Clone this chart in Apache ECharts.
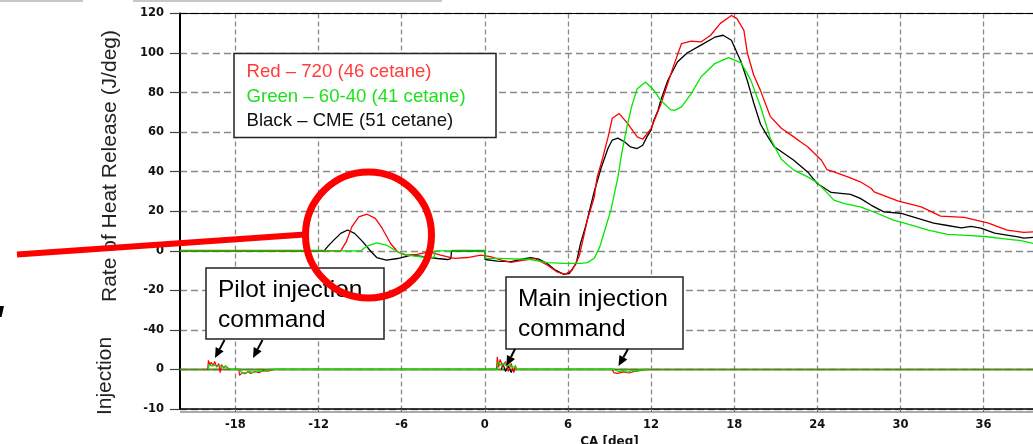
<!DOCTYPE html>
<html><head><meta charset="utf-8">
<script src="https://cdn.jsdelivr.net/npm/echarts@6/dist/echarts.min.js"></script>
<style>html,body{margin:0;padding:0;background:#fff}#c{width:1033px;height:444px}</style>
</head><body><div id="c"></div><script>
// ---- data (CA in deg, rate of heat release in J/deg) ----
const caTicks = [-18, -12, -6, 0, 6, 12, 18, 24, 30, 36];
const yTickLabels = {'-80': '-10', '-60': '0'}; // injection panel labels on the shared axis

const blackCA = [-22,-11.6,-11.3,-10.9,-10.4,-9.9,-9.4,-8.8,-8.2,-7.8,-7.1,-6.3,-5.3,-4.4,-3.4,-2.7,-2.45,-2.4,0,0.02,0.9,1.9,2.6,3.3,3.9,4.5,5.1,5.7,6.1,6.6,6.9,7.3,7.9,8.4,8.9,9.2,9.6,10.1,10.5,11.0,11.4,11.7,12.0,12.2,12.5,12.7,13.2,13.9,14.6,15.6,16.6,17.2,17.8,18.5,18.95,19.4,19.9,20.4,20.9,21.6,22.3,23.3,24.0,25.0,25.7,26.4,27.1,27.9,28.8,30.0,31.2,32.4,33.4,34.4,35.1,35.8,36.8,37.8,38.5,38.9,39.6];
const blackRoHR = [0,0,2.5,5.4,8.8,10.5,8.8,4.5,-0.5,-3.4,-4.7,-3.9,-2.2,-3.0,-3.9,-4.4,-3.9,0,0,-4.4,-5.2,-5.5,-4.4,-3.5,-4.2,-6.4,-9.8,-11.9,-11.4,-6.4,3.5,13,30,42,52,56,57,55,52.6,51.7,53.4,57.6,61,66,71,76,86,95.5,100,104,108,109,106.5,95.5,86,75,64,58,52.6,49.2,45.8,39.9,34,29.5,29,28.5,26.5,23,19.7,19,16.5,14,12.8,11.6,12.4,11.5,8.9,7.8,7,6.4,6.8];

const redCA = [-22,-10.4,-10.0,-9.6,-9.1,-8.5,-7.9,-7.4,-6.8,-6.3,-5.7,-4.9,-4.0,-3.2,-2.2,-1.25,-0.3,0.4,1.2,1.9,2.6,3.6,4.5,5.2,5.8,6.3,6.8,7.1,7.4,7.9,8.1,8.5,8.9,9.2,9.7,10.3,11.0,11.4,12.0,12.7,13.6,14.2,14.9,15.6,16.3,17.0,17.8,18.2,18.7,18.95,19.4,19.9,20.6,21.4,22.3,22.8,23.3,24.3,24.7,25.2,26.2,27.1,27.9,28.1,29.8,31.5,32.9,34.6,36.3,37.7,38.9,39.6];
const redRoHR = [0,0,4.5,12.1,17.2,18.5,16.4,11.3,3.7,-0.5,-2.2,-1.8,-0.5,-2.2,-3.8,-3.4,-2.2,-3,-4.7,-5.9,-5,-3.9,-7.2,-10.6,-11.9,-9.8,-3,6,15.5,27,37,46.7,57.6,67,69.4,64.4,57.6,56.4,61.8,74,93,104.8,106,105.6,109,115,119,117.4,111.5,100,89,81,68,62,57.6,55,52.6,45.8,41,39.9,37.4,34.9,31.5,29.8,25.3,22.2,17.5,16.9,14.1,10.5,9.3,9.6];

const greenCA = [-22,-8.95,-8.5,-7.8,-7.1,-6.3,-5.6,-4.6,-3.66,-3.6,0,0.02,1.0,3.3,4.5,5.7,6.9,7.4,7.9,8.3,8.6,9.1,9.6,9.9,10.3,10.6,11.0,11.6,12.2,12.7,13.4,13.7,14.2,14.9,15.6,16.6,17.6,18.5,19.2,19.9,20.6,21.4,22.3,23.3,24.0,25.2,25.9,27.1,28.3,29.5,30.8,32.0,33.4,34.8,36.3,37.5,38.7,39.6];
const greenRoHR = [0,0,2.4,4,2.9,-0.5,-2.2,-3,-3.4,0,0,-3.8,-3.8,-4.4,-6,-6.4,-6.4,-6,-3.8,2,9,20.6,37,50,64,73,82,85.4,81.2,76.1,71.4,71,72.8,79.5,87.9,94.7,97.7,95,86.3,73,57,46.3,40.8,37.4,34.5,25.6,24,22.2,19,15.5,13,10.5,8.3,7.8,7.1,6,5.1,3.7];

// CA ranges where all three RoHR traces sit on zero together
const sharedZeroCA = [[-22, -11.6], [-2.4, 0]];

// injection command signals (injection units)
const injRedCA = [-20.0,-19.95,-19.85,-19.75,-19.6,-19.5,-19.35,-19.2,-19.1,-19.0,-18.85,-18.7,-18.5,-18.35,-17.75,-17.7,-17.5,-17.3,-17.1,-16.9,-16.6,-16.3,-16.0,-15.6,-15.2,0.85,0.9,1.0,1.1,1.3,1.5,1.7,1.9,2.1,2.2,2.3,9.2,9.3,9.6,10.0,10.4,10.8,11.2,11.7];
const injRed = [0,2.3,1.2,1.8,0.9,2.0,0.6,1.5,-0.8,1.2,0.4,0.8,0.2,0,0,-1.5,-0.8,-1.1,-0.6,-1.0,-0.5,-0.8,-0.3,-0.4,0,0,3.2,0.5,2.5,0.8,2.0,-0.5,1.5,-0.8,1.0,0,0,-0.8,-1.0,-0.6,-0.9,-0.5,-0.3,0];
const injGreenCA = [-19.95,-19.9,-19.7,-19.5,-19.3,-19.1,-18.9,-18.7,-18.5,-18.3,-17.7,-17.6,-17.3,-17.0,-16.7,-16.4,-16.0,-15.6,-15.2,0.9,0.95,1.2,1.4,1.6,1.8,2.0,2.2,2.3,9.3,9.4,9.7,10.0,10.3,10.6,10.9,11.3,11.7];
const injGreen = [0,1.2,0.9,1.1,0.8,1.0,0.6,0.9,0.3,0,0,-0.6,-0.9,-0.5,-0.8,-0.4,-0.5,-0.2,0,0,2.0,1.0,1.5,0.8,1.2,0.5,0.8,0,0,-0.3,-0.6,-0.2,-0.7,-0.2,-0.5,-0.1,0];
const injBlackCA = [1.2,1.3,1.5,1.7,1.9,2.0];
const injBlack = [0,1.5,-0.5,1.0,-0.8,0];

// ---- build ----
const zip = (xs, ys) => xs.map((x, i) => [x, ys[i]]);
const RED = '#ff0000', GREEN = '#00e600', BLACK = '#000000', OLIVE = '#55891e';
const chart = echarts.init(document.getElementById('c'), null, {renderer: 'canvas'});

function curve(name, xs, ys, color, yIdx, z, w) {
  return {name, type: 'line', data: zip(xs, ys), yAxisIndex: yIdx, showSymbol: false, symbol: 'none',
    lineStyle: {color, width: w || 1.3}, itemStyle: {color}, z, animation: false, silent: true};
}

function arrow(x1, y1, x2, y2) {
  const a = Math.atan2(y2 - y1, x2 - x1), L = 10, W = 4.5;
  const bx = x2 - L * Math.cos(a), by = y2 - L * Math.sin(a);
  const nx = -Math.sin(a) * W, ny = Math.cos(a) * W;
  return [
    {type: 'line', shape: {x1, y1, x2: bx, y2: by}, style: {stroke: '#000', lineWidth: 2}, z: 110},
    {type: 'polygon', shape: {points: [[x2, y2], [bx + nx, by + ny], [bx - nx, by - ny]]}, style: {fill: '#000'}, z: 110}
  ];
}

const boxFont = '"Liberation Sans", Arial, sans-serif';
const series = [];
sharedZeroCA.forEach((seg, i) => series.push(curve('zero' + i, seg, [0, 0], OLIVE, 0, 4, 2)));
series.push(curve('CME', blackCA, blackRoHR, BLACK, 0, 5));
series.push(curve('720', redCA, redRoHR, RED, 0, 6));
series.push(curve('60-40', greenCA, greenRoHR, GREEN, 0, 7));
series.push(curve('injBase', [-22, 40], [0, 0], OLIVE, 1, 4, 2));
series.push(curve('injBlack', injBlackCA, injBlack, BLACK, 1, 5, 1.2));
series.push(curve('injRed', injRedCA, injRed, RED, 1, 6, 1.2));
series.push(curve('injGreen', injGreenCA, injGreen, GREEN, 1, 7, 1.2));

const graphics = [
  // slide artefacts
  {type: 'line', shape: {x1: 0, y1: 1, x2: 83, y2: 1}, style: {stroke: '#c8c8c8', lineWidth: 2}},
  {type: 'line', shape: {x1: 133, y1: 1, x2: 442, y2: 1}, style: {stroke: '#c8c8c8', lineWidth: 2}},
  {type: 'polygon', shape: {points: [[0, 306], [4, 306], [1.5, 317], [0, 317]]}, style: {fill: '#000'}},
  // frame
  {type: 'line', shape: {x1: 180, y1: 13.5, x2: 1033, y2: 13.5}, style: {stroke: '#000', lineWidth: 1.2}, z: 50},
  {type: 'line', shape: {x1: 180, y1: 412, x2: 1033, y2: 412}, style: {stroke: '#555', lineWidth: 1}, z: 50},
  // axis titles
  {type: 'text', x: 110, y: 166, rotation: Math.PI / 2, style: {text: 'Rate of Heat Release (J/deg)', font: '21px ' + boxFont, fill: '#222', align: 'center', verticalAlign: 'middle'}},
  {type: 'text', x: 105, y: 376, rotation: Math.PI / 2, style: {text: 'Injection', font: '21px ' + boxFont, fill: '#222', align: 'center', verticalAlign: 'middle'}},
  // legend box
  {type: 'rect', shape: {x: 234, y: 53.5, width: 262, height: 84}, style: {fill: '#fff', stroke: '#222', lineWidth: 1.5}, z: 100},
  {type: 'text', x: 246.5, y: 72, style: {text: 'Red \u2013 720 (46 cetane)', font: '18.6px ' + boxFont, fill: '#ff3b3b', verticalAlign: 'middle'}, z: 101},
  {type: 'text', x: 246.5, y: 97, style: {text: 'Green \u2013 60-40 (41 cetane)', font: '18.6px ' + boxFont, fill: '#1ee01e', verticalAlign: 'middle'}, z: 101},
  {type: 'text', x: 246.5, y: 121, style: {text: 'Black \u2013 CME (51 cetane)', font: '18.6px ' + boxFont, fill: '#111', verticalAlign: 'middle'}, z: 101},
  // annotation boxes
  {type: 'rect', shape: {x: 206, y: 268, width: 178, height: 71}, style: {fill: '#fff', stroke: '#222', lineWidth: 1.5}, z: 100},
  {type: 'text', x: 218, y: 290, style: {text: 'Pilot injection', font: '24.5px ' + boxFont, fill: '#000', verticalAlign: 'middle'}, z: 101},
  {type: 'text', x: 218, y: 320, style: {text: 'command', font: '24.5px ' + boxFont, fill: '#000', verticalAlign: 'middle'}, z: 101},
  {type: 'rect', shape: {x: 506, y: 277, width: 177, height: 72}, style: {fill: '#fff', stroke: '#222', lineWidth: 1.5}, z: 100},
  {type: 'text', x: 518, y: 299, style: {text: 'Main injection', font: '24.5px ' + boxFont, fill: '#000', verticalAlign: 'middle'}, z: 101},
  {type: 'text', x: 518, y: 329, style: {text: 'command', font: '24.5px ' + boxFont, fill: '#000', verticalAlign: 'middle'}, z: 101},
  ...arrow(224.5, 340, 215, 358),
  ...arrow(262.5, 340, 253, 358),
  ...arrow(515, 349, 506.5, 366),
  ...arrow(628, 349, 618.5, 366),
  // red highlight
  {type: 'line', shape: {x1: 17, y1: 254.5, x2: 305, y2: 234.5}, style: {stroke: '#ff0000', lineWidth: 6}, z: 120},
  {type: 'circle', shape: {cx: 368.5, cy: 235, r: 63}, style: {fill: 'none', stroke: '#ff0000', lineWidth: 7}, z: 120}
];

const dashedGrid = {show: true, lineStyle: {color: '#8a8a8a', width: 1.3, type: [7, 4]}};
chart.setOption({
  animation: false,
  backgroundColor: '#fff',
  grid: {left: 180, right: -6, top: 13.5, bottom: 35, containLabel: false, outerBoundsMode: 'none'},
  xAxis: {
    type: 'value', min: -22, max: 40,
    name: 'CA [deg]', nameLocation: 'middle', nameGap: 22,
    nameTextStyle: {fontFamily: 'DejaVu Sans', fontWeight: 'bold', fontSize: 12, color: '#111'},
    axisLine: {show: true, onZero: false, lineStyle: {color: '#000', width: 1.5}},
    axisTick: {show: true, length: 3, customValues: caTicks, lineStyle: {color: '#777'}},
    axisLabel: {customValues: caTicks, margin: 10, fontFamily: 'DejaVu Sans', fontWeight: 'bold', fontSize: 11.5, color: '#111'},
    splitLine: {show: true, lineStyle: {color: '#8a8a8a', width: 1.3, type: [5, 3]}}
  },
  yAxis: [{
    type: 'value', min: -80, max: 120, interval: 20,
    axisLine: {show: true, onZero: false, lineStyle: {color: '#000', width: 2}},
    axisTick: {show: true, inside: false, length: 10, lineStyle: {color: '#444', width: 1.2}},
    axisLabel: {margin: 16, fontFamily: 'DejaVu Sans', fontWeight: 'bold', fontSize: 11.5, color: '#111',
      formatter: v => (yTickLabels[String(v)] !== undefined ? yTickLabels[String(v)] : String(v))},
    splitLine: dashedGrid
  }, {
    type: 'value', min: -10, max: 90, show: false, splitLine: {show: false}
  }],
  series,
  graphic: graphics
});
</script></body></html>
